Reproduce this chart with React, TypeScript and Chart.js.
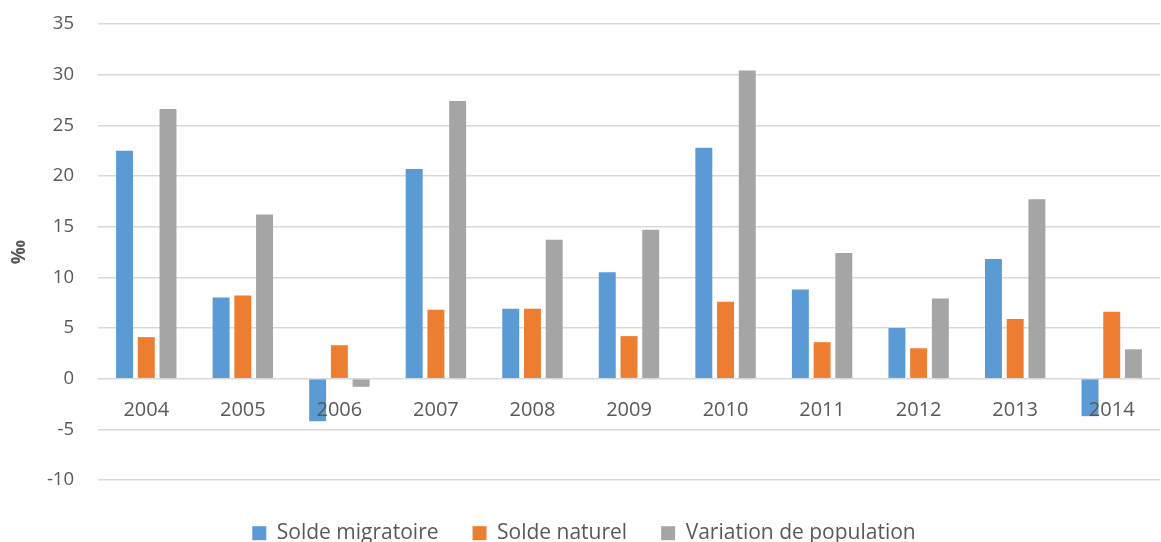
import React, { useEffect, useRef } from "react";
import { Chart, registerables } from "chart.js";

Chart.register(...registerables);

const years = ["2004", "2005", "2006", "2007", "2008", "2009", "2010", "2011", "2012", "2013", "2014"];
const soldeMigratoire = [22.5, 8.0, -4.2, 20.7, 6.9, 10.5, 22.8, 8.8, 5.0, 11.8, -3.7];
const soldeNaturel = [4.1, 8.2, 3.3, 6.8, 6.9, 4.2, 7.6, 3.6, 3.0, 5.9, 6.6];
const variationPopulation = [26.6, 16.2, -0.8, 27.4, 13.7, 14.7, 30.4, 12.4, 7.9, 17.7, 2.9];
const seriesNames = ["Solde migratoire", "Solde naturel", "Variation de population"];
const seriesColors = ["#5B9BD5", "#ED7D31", "#A5A5A5"];
const yMin = -10;
const yMax = 35;
const yStep = 5;
const yTitle = "‰";

const FONT = "'Open Sans', Lato, sans-serif";
const TEXT = "#595959";

export default function App() {
  const ref = useRef<HTMLCanvasElement | null>(null);

  useEffect(() => {
    if (!ref.current) return;
    const series = [soldeMigratoire, soldeNaturel, variationPopulation];
    const chart = new Chart(ref.current, {
      type: "bar",
      data: {
        labels: years,
        datasets: series.map((d, i) => ({
          label: seriesNames[i],
          data: d,
          backgroundColor: seriesColors[i],
          borderWidth: 0,
          categoryPercentage: 0.675,
          barPercentage: 0.78,
        })),
      },
      options: {
        animation: false,
        responsive: false,
        maintainAspectRatio: false,
        layout: { padding: { top: 24, right: 1, left: 8, bottom: 0 } },
        plugins: {
          tooltip: { enabled: false },
          legend: {
            position: "bottom",
            maxHeight: 62,
            title: {
              display: true,
              text: "",
              font: { size: 1 },
              padding: { top: 7.5, bottom: 0 },
            },
            labels: {
              color: TEXT,
              font: { family: FONT, size: 21 },
              boxWidth: 14,
              boxHeight: 14,
              padding: 34,
            },
          } as any,
        },
        scales: {
          x: {
            position: { y: 0 } as any,
            grid: { display: false },
            border: { display: false },
            ticks: {
              z: 1,
              color: TEXT,
              font: { family: FONT, size: 20 },
              padding: 12,
              maxRotation: 0,
            },
          },
          y: {
            min: yMin,
            max: yMax,
            ticks: {
              stepSize: yStep,
              color: TEXT,
              font: { family: FONT, size: 18.5 },
              padding: 24,
            },
            grid: { color: "#D9D9D9", lineWidth: 1.5, drawTicks: false },
            border: { display: false },
            title: {
              display: true,
              text: yTitle,
              color: TEXT,
              font: { family: FONT, size: 19, weight: "bold" },
              padding: 0,
            },
            afterFit: (scale: any) => {
              scale.width = 90;
              scale.paddingTop = 0;
              scale.paddingBottom = 0;
            },
          },
        },
      },
    });
    return () => chart.destroy();
  }, []);

  return (
    <div style={{ position: "fixed", left: 0, top: 0, width: 1161, height: 542, background: "#fff" }}>
      <canvas ref={ref} width={1161} height={542} style={{ width: 1161, height: 542 }} />
    </div>
  );
}
